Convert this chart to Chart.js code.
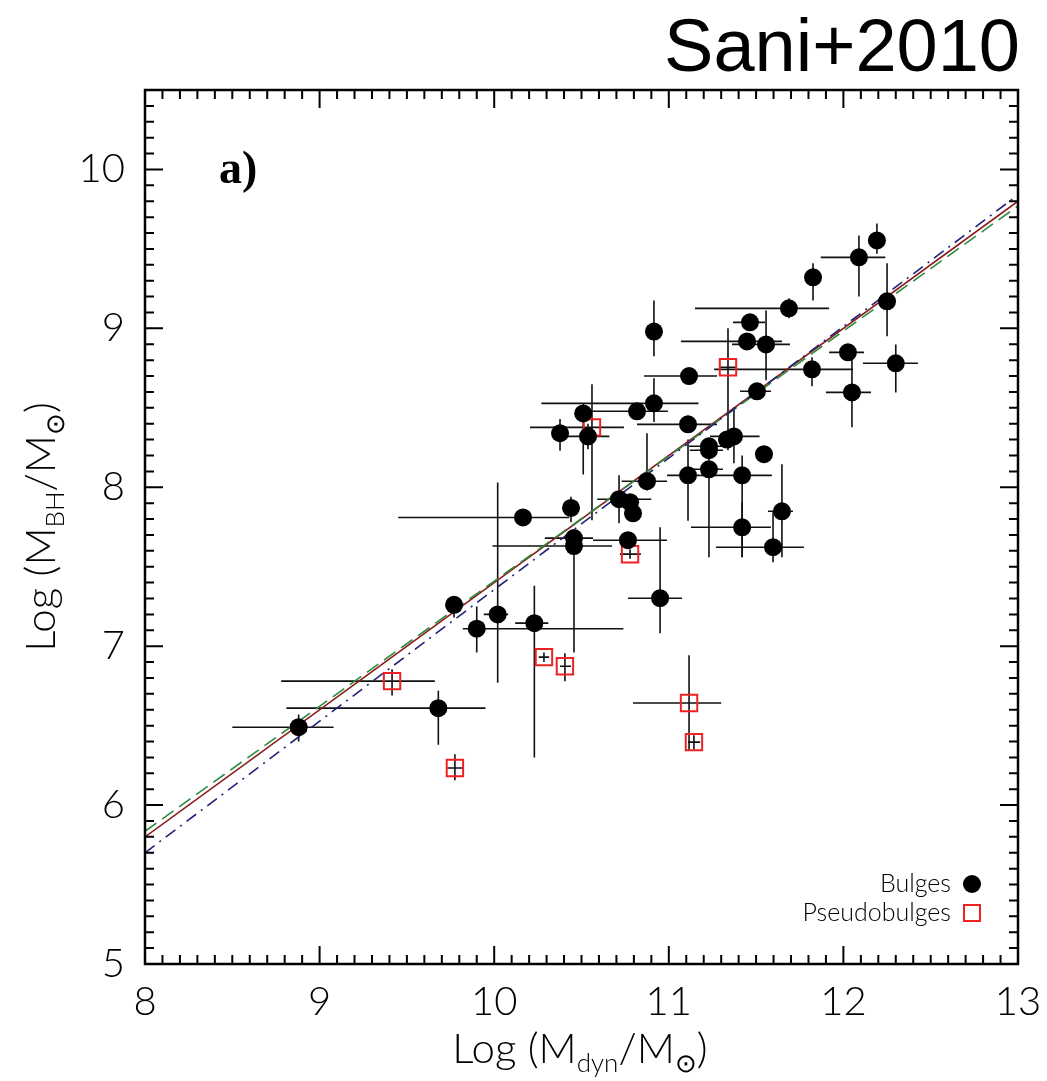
<!DOCTYPE html>
<html>
<head>
<meta charset="utf-8">
<script src="https://cdn.jsdelivr.net/npm/chart.js@4.4.0/dist/chart.umd.min.js"></script>
<style>
  html, body { margin: 0; padding: 0; background: #fff; }
  #wrap { width: 1047px; height: 1081px; position: relative; }
</style>
</head>
<body>
<div id="wrap"><canvas id="myChart"></canvas></div>
<script>
// bulges: log Mdyn, log MBH, with lower/upper error bounds
const bulgeX = [8.88, 9.68, 9.77, 9.90, 10.02, 10.165, 10.23, 10.44, 10.457, 10.457, 10.377, 10.51, 10.537, 10.818, 10.915, 10.915, 11.116, 11.11, 10.875, 11.11, 11.42, 11.23, 11.23, 11.23, 11.373, 11.333, 11.545, 11.648, 11.42, 11.597, 11.465, 11.448, 11.557, 11.505, 11.688, 11.826, 12.089, 12.192, 12.25, 11.82, 12.026, 12.049, 12.30, 10.715, 10.778, 10.795, 10.766, 10.95];
const bulgeY = [6.49, 6.61, 7.26, 7.11, 7.20, 7.81, 7.145, 7.87, 7.68, 7.63, 8.34, 8.465, 8.32, 8.478, 8.528, 8.98, 8.70, 8.396, 8.038, 8.075, 8.075, 8.113, 8.258, 8.233, 8.32, 8.30, 8.208, 7.849, 7.748, 7.623, 9.038, 8.918, 8.899, 8.604, 9.126, 9.321, 9.447, 9.553, 9.17, 8.742, 8.849, 8.597, 8.78, 7.925, 7.906, 7.836, 7.667, 7.302];
const bulgeXLo = [8.50, 8.81, 9.74, 9.82, 9.94, 9.45, 10.12, 10.39, 10.29, 9.99, 10.33, 10.46, 10.39, 10.56, 10.27, 10.87, 10.858, 10.818, 10.73, 10.99, 11.18, 11.12, 11.116, 11.12, 11.236, 11.29, 11.50, 11.568, 11.127, 11.27, 11.368, 11.07, 11.362, 11.408, 11.15, 11.78, 11.87, 12.15, 12.21, 11.26, 11.918, 11.90, 12.112, 10.59, 10.73, 10.75, 10.566, 10.766];
const bulgeXHi = [9.08, 9.95, 9.80, 10.74, 10.08, 10.43, 10.31, 10.49, 10.566, 10.675, 10.42, 10.55, 10.66, 10.995, 11.17, 10.96, 11.276, 11.276, 10.99, 11.18, 11.59, 11.31, 11.316, 11.31, 11.52, 11.38, 11.59, 11.711, 11.585, 11.774, 11.551, 11.648, 11.694, 11.585, 11.918, 11.87, 12.24, 12.23, 12.29, 12.055, 12.118, 12.158, 12.427, 10.90, 10.83, 10.84, 10.99, 11.076];
const bulgeYLo = [6.40, 6.38, 7.18, 6.96, 6.77, 7.77, 6.30, 7.78, 7.65, 6.96, 8.23, 8.08, 8.24, 8.43, 8.41, 8.824, 8.65, 8.35, 7.98, 7.79, 7.56, 7.56, 8.22, 8.19, 8.151, 8.26, 8.16, 7.56, 7.56, 7.528, 8.99, 8.87, 8.673, 8.56, 9.063, 9.176, 9.20, 9.47, 8.95, 8.635, 8.80, 8.377, 8.597, 7.774, 7.86, 7.79, 7.62, 7.082];
const bulgeYHi = [6.57, 6.72, 7.30, 7.25, 8.03, 7.86, 7.38, 7.94, 7.71, 7.68, 8.43, 8.53, 8.40, 8.52, 8.686, 9.176, 8.75, 8.45, 8.34, 8.30, 8.20, 8.21, 8.30, 8.27, 8.503, 8.34, 8.26, 8.145, 7.906, 7.843, 9.08, 8.96, 9.113, 8.65, 9.19, 9.409, 9.585, 9.66, 9.409, 8.818, 8.90, 8.849, 8.899, 8.075, 7.96, 7.88, 7.72, 7.748];

// pseudobulges
const pseudoX = [9.415, 9.775, 10.285, 10.405, 10.56, 10.778, 11.339, 11.116, 11.144];
const pseudoY = [6.78, 6.233, 6.931, 6.874, 8.377, 7.579, 8.755, 6.642, 6.396];
const pseudoXLo = [8.78, 9.73, 10.255, 10.377, 10.205, 10.72, 11.29, 10.795, 11.11];
const pseudoXHi = [9.66, 9.82, 10.315, 10.44, 10.743, 10.84, 11.39, 11.30, 11.18];
const pseudoYLo = [6.69, 6.157, 6.90, 6.78, 7.792, 7.55, 8.233, 6.346, 6.35];
const pseudoYHi = [6.855, 6.32, 6.96, 6.956, 8.648, 7.61, 9.0, 6.943, 6.44];

// fitted relations, evaluated at the plot edges
const fitX = [8, 13];
const fitRed = [5.80, 9.80];
const fitGreen = [5.835, 9.77];
const fitBlue = [5.70, 9.84];

const xTickLabels = [8, 9, 10, 11, 12, 13];
const yTickLabels = [5, 6, 7, 8, 9, 10];

const labelFont = '"Lato", "Open Sans", sans-serif';

const toPts = (xs, ys) => xs.map((x, i) => ({ x: x, y: ys[i] }));

const errorBars = {
    id: 'errorBars',
    beforeDatasetsDraw(chart) {
        const { ctx, chartArea, scales: { x, y } } = chart;
        ctx.save();
        ctx.beginPath();
        ctx.rect(chartArea.left, chartArea.top, chartArea.right - chartArea.left, chartArea.bottom - chartArea.top);
        ctx.clip();
        ctx.strokeStyle = '#111';
        ctx.lineWidth = 1.6;
        const draw = (xs, ys, xlo, xhi, ylo, yhi) => {
            xs.forEach((v, i) => {
                const px = x.getPixelForValue(v);
                const py = y.getPixelForValue(ys[i]);
                ctx.beginPath();
                ctx.moveTo(x.getPixelForValue(xlo[i]), py);
                ctx.lineTo(x.getPixelForValue(xhi[i]), py);
                ctx.moveTo(px, y.getPixelForValue(ylo[i]));
                ctx.lineTo(px, y.getPixelForValue(yhi[i]));
                ctx.stroke();
            });
        };
        draw(bulgeX, bulgeY, bulgeXLo, bulgeXHi, bulgeYLo, bulgeYHi);
        draw(pseudoX, pseudoY, pseudoXLo, pseudoXHi, pseudoYLo, pseudoYHi);
        ctx.restore();
    }
};

const frameAndText = {
    id: 'frameAndText',
    afterDraw(chart) {
        const { ctx, chartArea: a, scales: { x, y } } = chart;
        ctx.save();
        ctx.strokeStyle = '#000';
        ctx.lineWidth = 2.5;
        ctx.strokeRect(a.left, a.top, a.right - a.left, a.bottom - a.top);

        // inward ticks on all four sides
        ctx.lineWidth = 2;
        ctx.beginPath();
        for (let i = 0; i <= 50; i++) {
            const v = 8 + i / 10;
            const px = x.getPixelForValue(v);
            const len = i % 10 === 0 ? 18 : 9;
            ctx.moveTo(px, a.bottom); ctx.lineTo(px, a.bottom - len);
            ctx.moveTo(px, a.top); ctx.lineTo(px, a.top + len);
        }
        for (let i = 0; i <= 55; i++) {
            const v = 5 + i / 10;
            const py = y.getPixelForValue(v);
            const len = i % 10 === 0 ? 18 : 9;
            ctx.moveTo(a.left, py); ctx.lineTo(a.left + len, py);
            ctx.moveTo(a.right, py); ctx.lineTo(a.right - len, py);
        }
        ctx.stroke();

        // header and panel label
        ctx.fillStyle = '#000';
        ctx.textAlign = 'right';
        ctx.textBaseline = 'alphabetic';
        ctx.font = '74px "Liberation Sans", Arial, sans-serif';
        ctx.fillText('Sani+2010', 1020, 71);
        ctx.textAlign = 'left';
        ctx.font = 'bold 46px "Liberation Serif", "Times New Roman", serif';
        ctx.fillText('a)', 219, 183);

        // axis titles with subscripts
        const drawTitle = (parts, cx, cy, rotate) => {
            ctx.save();
            ctx.translate(cx, cy);
            if (rotate) ctx.rotate(-Math.PI / 2);
            let w = 0;
            parts.forEach(p => { ctx.font = (p.sub ? '300 26px ' : '300 42px ') + labelFont; w += ctx.measureText(p.t).width; });
            let pos = -w / 2;
            ctx.textAlign = 'left';
            ctx.textBaseline = 'alphabetic';
            parts.forEach(p => {
                ctx.font = (p.sub ? '300 26px ' : '300 42px ') + labelFont;
                ctx.fillText(p.t, pos, p.sub ? 22 : 13);
                pos += ctx.measureText(p.t).width;
            });
            ctx.restore();
        };
        drawTitle([{ t: 'Log (M' }, { t: 'dyn', sub: true }, { t: '/M' }, { t: '\u2299', sub: true }, { t: ')' }], 580, 1050, false);
        drawTitle([{ t: 'Log (M' }, { t: 'BH', sub: true }, { t: '/M' }, { t: '\u2299', sub: true }, { t: ')' }], 42, 527, true);

        // legend
        ctx.textAlign = 'right';
        ctx.font = '300 25px ' + labelFont;
        ctx.fillText('Bulges', 951, 892);
        ctx.fillText('Pseudobulges', 951, 921);
        ctx.beginPath();
        ctx.arc(972, 884, 9, 0, Math.PI * 2);
        ctx.fill();
        ctx.strokeStyle = '#ee2222';
        ctx.lineWidth = 2;
        ctx.strokeRect(964, 905, 16, 16);
        ctx.restore();
    }
};

const ctx = document.getElementById('myChart').getContext('2d');

const config = {
    type: 'scatter',
    data: {
        datasets: [
            {
                label: 'Bulges',
                data: toPts(bulgeX, bulgeY),
                pointStyle: 'circle',
                pointRadius: 9,
                backgroundColor: '#000',
                borderWidth: 0,
                order: 0
            },
            {
                label: 'Pseudobulges',
                data: toPts(pseudoX, pseudoY),
                pointStyle: 'rect',
                pointRadius: 11.6,
                backgroundColor: 'rgba(0,0,0,0)',
                borderColor: '#ee2222',
                borderWidth: 2,
                order: 1
            },
            {
                label: 'fit red',
                data: toPts(fitX, fitRed),
                showLine: true,
                pointRadius: 0,
                borderColor: '#8b1a1a',
                borderWidth: 1.6,
                order: 4
            },
            {
                label: 'fit green',
                data: toPts(fitX, fitGreen),
                showLine: true,
                pointRadius: 0,
                borderColor: '#2e8b3e',
                borderWidth: 1.6,
                borderDash: [14, 7],
                order: 3
            },
            {
                label: 'fit blue',
                data: toPts(fitX, fitBlue),
                showLine: true,
                pointRadius: 0,
                borderColor: '#22227a',
                borderWidth: 1.6,
                borderDash: [12, 6, 2, 6],
                order: 2
            }
        ]
    },
    options: {
        responsive: true,
        maintainAspectRatio: false,
        animation: false,
        layout: { padding: { left: 0, top: 90, right: 29, bottom: 0 } },
        scales: {
            x: {
                type: 'linear',
                min: 8,
                max: 13,
                afterFit: (s) => { s.height = 117; s.paddingLeft = 0; s.paddingRight = 0; },
                grid: { display: false, drawTicks: false },
                border: { display: false },
                ticks: {
                    stepSize: 1,
                    padding: 14,
                    color: '#000',
                    font: { family: labelFont, size: 40, weight: '300' },
                    callback: (v) => xTickLabels.includes(v) ? String(v) : ''
                }
            },
            y: {
                type: 'linear',
                min: 5,
                max: 10.5,
                afterFit: (s) => { s.width = 145; s.paddingTop = 0; s.paddingBottom = 0; },
                grid: { display: false, drawTicks: false },
                border: { display: false },
                ticks: {
                    stepSize: 1,
                    includeBounds: false,
                    padding: 20,
                    color: '#000',
                    font: { family: labelFont, size: 40, weight: '300' },
                    callback: (v) => yTickLabels.includes(v) ? String(v) : ''
                }
            }
        },
        plugins: {
            legend: { display: false },
            tooltip: { enabled: false }
        }
    },
    plugins: [errorBars, frameAndText]
};

let myChart = new Chart(ctx, config);
</script>
</body>
</html>
